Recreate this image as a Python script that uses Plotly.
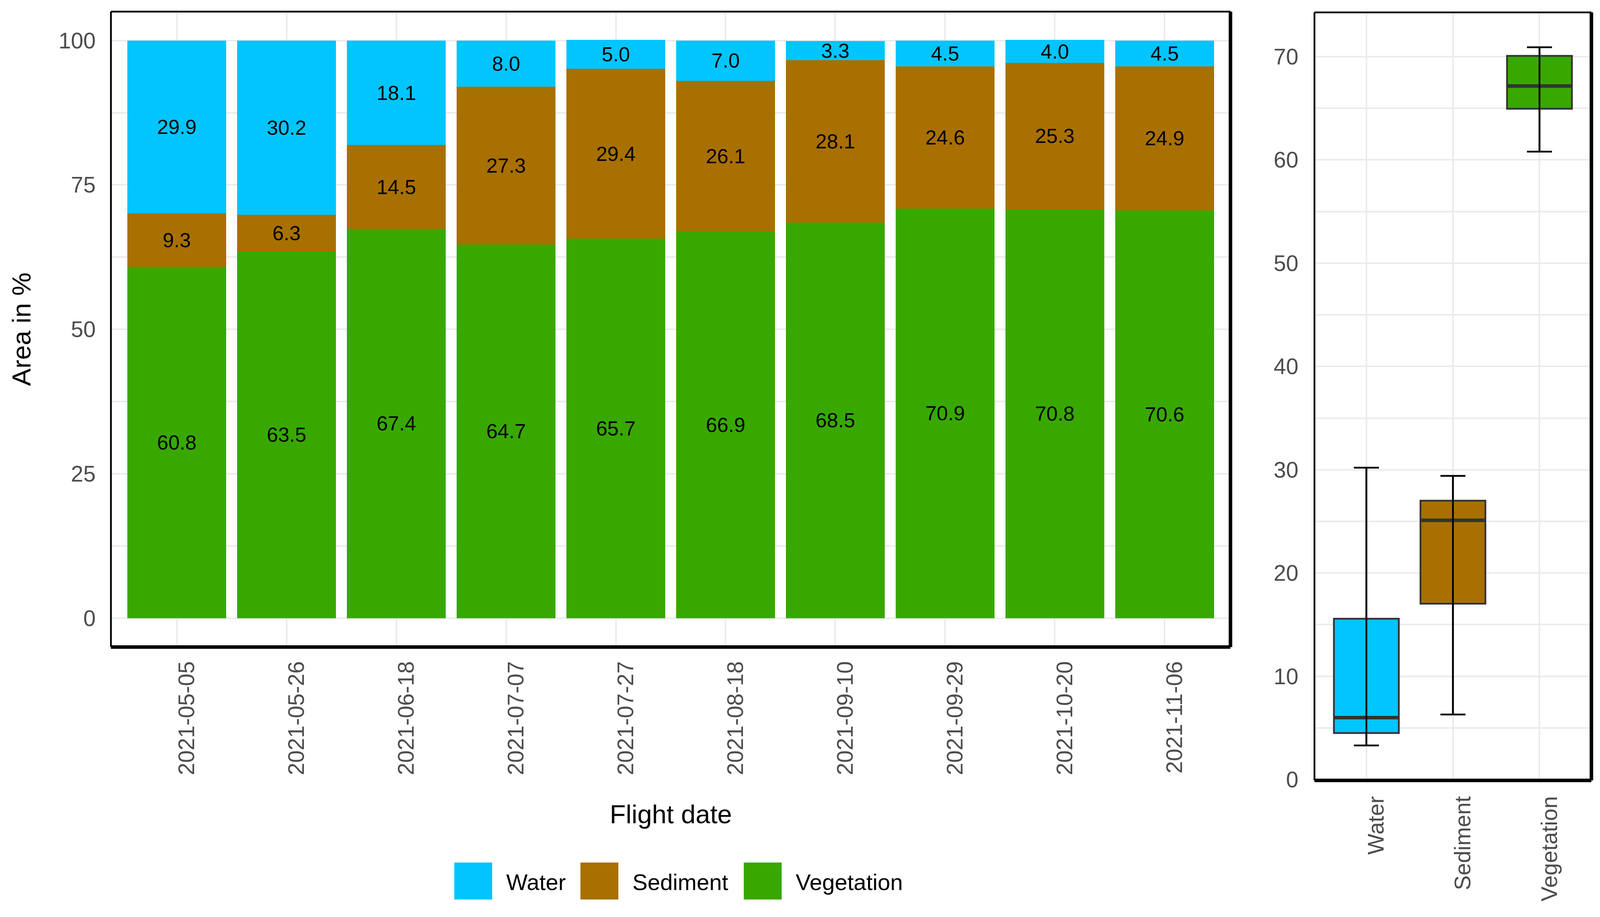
import numpy as np
import plotly.graph_objects as go

# ---------------- data ----------------
dates = ["2021-05-05", "2021-05-26", "2021-06-18", "2021-07-07", "2021-07-27",
         "2021-08-18", "2021-09-10", "2021-09-29", "2021-10-20", "2021-11-06"]
water = [29.9, 30.2, 18.1, 8.0, 5.0, 7.0, 3.3, 4.5, 4.0, 4.5]
sediment = [9.3, 6.3, 14.5, 27.3, 29.4, 26.1, 28.1, 24.6, 25.3, 24.9]
vegetation = [60.8, 63.5, 67.4, 64.7, 65.7, 66.9, 68.5, 70.9, 70.8, 70.6]
classes = ["Water", "Sediment", "Vegetation"]
left_ticks = [0, 25, 50, 75, 100]

# ---------------- style ----------------
W, H = 4102, 2348
colors = {"Water": "#00C5FF", "Sediment": "#A87000", "Vegetation": "#38A800"}
FONT = "Liberation Sans, Arial, sans-serif"
GRID = "#EBEBEB"
TICKC = "#4D4D4D"

series = {"Water": water, "Sediment": sediment, "Vegetation": vegetation}

fig = go.Figure()

# stacked bars (vegetation at bottom, water on top)
for name in ["Vegetation", "Sediment", "Water"]:
    vals = series[name]
    fig.add_trace(go.Bar(
        x=dates, y=vals, name=name,
        marker=dict(color=colors[name], line=dict(width=0)),
        text=[f"{v:.1f}" for v in vals],
        textposition="inside", insidetextanchor="middle",
        textangle=0, constraintext="none",
        textfont=dict(size=52, color="black", family=FONT),
        xaxis="x", yaxis="y", showlegend=False, hoverinfo="skip",
    ))


def box_stats(v):
    a = np.array(v, dtype=float)
    q1, med, q3 = np.percentile(a, [25, 50, 75])
    iqr = q3 - q1
    lo = a[a >= q1 - 1.5 * iqr].min()
    hi = a[a <= q3 + 1.5 * iqr].max()
    return q1, med, q3, lo, hi


BOXW = 0.75
for i, name in enumerate(classes):
    pos = i + 1
    q1, med, q3, lo, hi = box_stats(series[name])
    fig.add_trace(go.Box(
        x=[pos], q1=[q1], median=[med], q3=[q3], lowerfence=[lo], upperfence=[hi],
        width=BOXW, fillcolor=colors[name],
        line=dict(color="#333333", width=4.5), whiskerwidth=0,
        boxpoints=False, xaxis="x2", yaxis="y2", showlegend=False, hoverinfo="skip",
    ))
    # thick median line
    fig.add_trace(go.Scatter(
        x=[pos], y=[med], mode="markers",
        marker=dict(size=1, color="rgba(0,0,0,0)"),
        error_x=dict(type="constant", value=BOXW / 2, width=0, thickness=9, color="#333333"),
        xaxis="x2", yaxis="y2", showlegend=False, hoverinfo="skip",
    ))
    # error-bar whiskers over the box
    fig.add_trace(go.Scatter(
        x=[pos], y=[med], mode="markers",
        marker=dict(size=1, color="rgba(0,0,0,0)"),
        error_y=dict(type="data", symmetric=False, array=[hi - med], arrayminus=[med - lo],
                     width=32, thickness=4.5, color="black"),
        xaxis="x2", yaxis="y2", showlegend=False, hoverinfo="skip",
    ))

tickfont = dict(size=57, color=TICKC, family=FONT)

# panel geometry (pixels)
L_X0, L_X1, L_Y0, L_Y1 = 276, 3142, 22, 1670
R_X0, R_X1, R_Y0, R_Y1 = 3357, 4066, 24, 2016

fig.update_layout(
    width=W, height=H, margin=dict(l=0, r=0, t=0, b=0),
    paper_bgcolor="white", plot_bgcolor="white",
    barmode="stack", bargap=0.1,
    font=dict(family=FONT),
    xaxis=dict(domain=[L_X0 / W, L_X1 / W], anchor="y", type="category",
               range=[-0.6, len(dates) - 0.4], showgrid=True, gridcolor=GRID, gridwidth=4,
               tickangle=-90, tickfont=tickfont, ticks="", ticklabelstandoff=24,
               ticklabelshift=26, zeroline=False, showline=False),
    yaxis=dict(domain=[1 - L_Y1 / H, 1 - L_Y0 / H], anchor="x",
               range=[-5, 105], tickmode="array", tickvals=left_ticks,
               showgrid=True, gridcolor=GRID, gridwidth=4,
               minor=dict(tickmode="array", tickvals=[12.5, 37.5, 62.5, 87.5],
                          showgrid=True, gridcolor=GRID, gridwidth=4, ticks=""),
               tickfont=tickfont, ticks="", ticklabelstandoff=38,
               zeroline=False, showline=False),
    xaxis2=dict(domain=[R_X0 / W, R_X1 / W], anchor="y2",
                range=[0.4, 3.6], tickmode="array", tickvals=[1, 2, 3], ticktext=classes,
                showgrid=True, gridcolor=GRID, gridwidth=4,
                tickangle=-90, tickfont=tickfont, ticks="", ticklabelstandoff=28,
                ticklabelshift=26, zeroline=False, showline=False),
    yaxis2=dict(domain=[1 - R_Y1 / H, 1 - R_Y0 / H], anchor="x2",
                range=[-0.08, 74.28], tick0=0, dtick=10,
                showgrid=True, gridcolor=GRID, gridwidth=4,
                minor=dict(tick0=5, dtick=10, showgrid=True, gridcolor=GRID, gridwidth=4, ticks=""),
                tickfont=tickfont, ticks="", ticklabelstandoff=40,
                zeroline=False, showline=False),
)

# panel borders
shapes = []
for xr, yr, thin, thick in [("x domain", "y domain", 4.5, 9), ("x2 domain", "y2 domain", 4.5, 9)]:
    shapes += [
        dict(type="line", xref=xr, yref=yr, x0=0, x1=1, y0=1, y1=1, line=dict(color="black", width=thin), layer="above"),
        dict(type="line", xref=xr, yref=yr, x0=0, x1=0, y0=0, y1=1, line=dict(color="black", width=thin), layer="above"),
        dict(type="line", xref=xr, yref=yr, x0=0, x1=1, y0=0, y1=0, line=dict(color="black", width=thick), layer="above"),
        dict(type="line", xref=xr, yref=yr, x0=1, x1=1, y0=0, y1=1, line=dict(color="black", width=thick), layer="above"),
    ]

# custom legend (large swatches)
annotations = []
sw_x = [1155, 1478, 1896]
sw_w, sw_y0, sw_y1 = 97, 2229, 2325
for name, x0 in zip(classes, sw_x):
    shapes.append(dict(type="rect", xref="paper", yref="paper",
                       x0=x0 / W, x1=(x0 + sw_w) / W, y0=1 - sw_y1 / H, y1=1 - sw_y0 / H,
                       fillcolor=colors[name], line=dict(width=0)))
    annotations.append(dict(text=name, xref="paper", yref="paper",
                            x=(x0 + sw_w + 34) / W, y=1 - (sw_y0 + sw_y1 + 6) / 2 / H,
                            xanchor="left", yanchor="middle", showarrow=False,
                            font=dict(size=58, color="black", family=FONT)))

annotations.append(dict(text="Flight date", xref="x domain", yref="paper", x=0.5, y=1 - 2103 / H,
                        xanchor="center", yanchor="middle", showarrow=False,
                        font=dict(size=67, color="black", family=FONT)))
annotations.append(dict(text="Area in %", xref="paper", yref="y domain", x=46 / W, y=0.5,
                        xanchor="center", yanchor="middle", textangle=-90, showarrow=False,
                        font=dict(size=67, color="black", family=FONT)))

fig.update_layout(shapes=shapes, annotations=annotations)

fig.write_html("out.html")
